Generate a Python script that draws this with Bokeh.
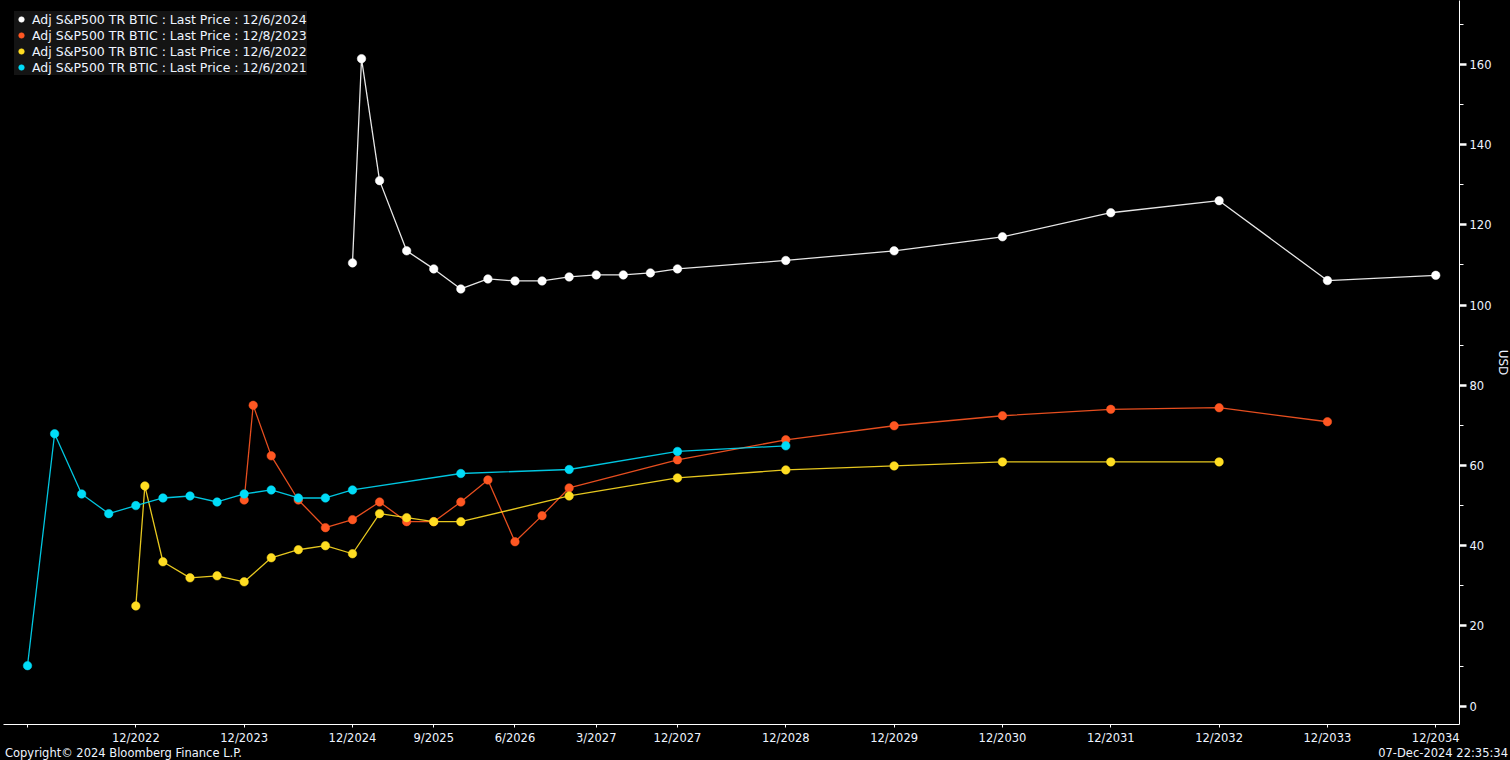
import math
from bokeh.plotting import figure
from bokeh.layouts import column
from bokeh.models import (Range1d, FixedTicker, Legend, LegendItem, Label, ColumnDataSource, Div)
from bokeh.embed import file_html
from bokeh.resources import INLINE

# ---- data (contract month "M/YYYY" -> last price, USD) ----
c2024_months = ["12/2024", "1/2025", "3/2025", "6/2025", "9/2025", "12/2025", "3/2026", "6/2026",
                "9/2026", "12/2026", "3/2027", "6/2027", "9/2027", "12/2027", "12/2028", "12/2029",
                "12/2030", "12/2031", "12/2032", "12/2033", "12/2034"]
c2024_vals = [110.5, 161.4, 131.0, 113.5, 109.0, 104.0, 106.5, 106.0, 106.0, 107.0, 107.5, 107.5,
              108.0, 109.0, 111.1, 113.5, 117.0, 123.0, 126.0, 106.1, 107.4]

c2023_months = ["12/2023", "1/2024", "3/2024", "6/2024", "9/2024", "12/2024", "3/2025", "6/2025",
                "9/2025", "12/2025", "3/2026", "6/2026", "9/2026", "12/2026", "12/2027", "12/2028",
                "12/2029", "12/2030", "12/2031", "12/2032", "12/2033"]
c2023_vals = [51.4, 75.0, 62.4, 51.4, 44.5, 46.5, 50.9, 46.0, 46.0, 50.9, 56.4, 41.0, 47.5, 54.4,
              61.4, 66.4, 69.9, 72.4, 74.0, 74.4, 70.9]

c2022_months = ["12/2022", "1/2023", "3/2023", "6/2023", "9/2023", "12/2023", "3/2024", "6/2024",
                "9/2024", "12/2024", "3/2025", "6/2025", "9/2025", "12/2025", "12/2026", "12/2027",
                "12/2028", "12/2029", "12/2030", "12/2031", "12/2032"]
c2022_vals = [25.0, 54.9, 36.0, 32.0, 32.5, 31.0, 37.0, 39.0, 40.0, 38.0, 48.0, 47.0, 46.0, 46.0,
              52.4, 56.9, 58.9, 59.9, 60.9, 60.9, 60.9]

c2021_months = ["12/2021", "3/2022", "6/2022", "9/2022", "12/2022", "3/2023", "6/2023", "9/2023",
                "12/2023", "3/2024", "6/2024", "9/2024", "12/2024", "12/2025", "12/2026", "12/2027",
                "12/2028"]
c2021_vals = [10.1, 67.9, 52.9, 48.0, 50.0, 51.9, 52.4, 50.9, 52.9, 53.9, 51.9, 51.9, 53.9, 58.0,
              59.0, 63.5, 64.9]

series_labels = ["Adj S&P500 TR BTIC : Last Price : 12/6/2024",
                 "Adj S&P500 TR BTIC : Last Price : 12/8/2023",
                 "Adj S&P500 TR BTIC : Last Price : 12/6/2022",
                 "Adj S&P500 TR BTIC : Last Price : 12/6/2021"]
series_colors = ["#ffffff", "#ff5722", "#ffdd22", "#00dcf8"]

x_ticks = ["12/2021", "12/2022", "12/2023", "12/2024", "9/2025", "6/2026", "3/2027", "12/2027",
           "12/2028", "12/2029", "12/2030", "12/2031", "12/2032", "12/2033", "12/2034"]
x_tick_labels = ["", "12/2022", "12/2023", "12/2024", "9/2025", "6/2026", "3/2027", "12/2027",
                 "12/2028", "12/2029", "12/2030", "12/2031", "12/2032", "12/2033", "12/2034"]
y_ticks = [0, 20, 40, 60, 80, 100, 120, 140, 160]

copyright_text = "Copyright\u00a9 2024 Bloomberg Finance L.P."
stamp_text = "07-Dec-2024 22:35:34"


def mi(s):
    m, y = s.split("/")
    return int(y) * 12 + int(m) - 1


FONT = "DejaVu Sans"
TXT = "#eef4ff"

x0 = mi("12/2021") - 2.66
x1 = mi("12/2034") + 2.63

p = figure(width=1510, height=747, output_backend="svg", toolbar_location=None,
           x_range=Range1d(x0, x1), y_range=Range1d(-4.56, 175.9),
           y_axis_location="right", background_fill_color="black",
           border_fill_color="black", outline_line_color=None,
           min_border_left=3, min_border_right=51, min_border_top=0, min_border_bottom=23)
p.xgrid.visible = False
p.ygrid.visible = False

items = []
for months, vals, lab, col in zip([c2024_months, c2023_months, c2022_months, c2021_months],
                                  [c2024_vals, c2023_vals, c2022_vals, c2021_vals],
                                  series_labels, series_colors):
    src = ColumnDataSource(dict(x=[mi(m) for m in months], y=vals))
    p.line("x", "y", source=src, line_color=col, line_width=1.3, line_alpha=0.9)
    r = p.scatter("x", "y", source=src, size=8.5, fill_color=col, line_color=col, line_width=0.5)
    items.append(LegendItem(label=lab, renderers=[r]))

legend = Legend(items=items, location="top_left", margin=11, padding=7,
                background_fill_color="#141414", background_fill_alpha=1,
                border_line_color=None, label_text_color=TXT, label_text_font=FONT,
                label_text_font_size="12.5px", glyph_width=14, glyph_height=16,
                label_height=16, label_standoff=4, spacing=0)
p.add_layout(legend)

# x axis
xa = p.xaxis[0]
xa.ticker = FixedTicker(ticks=[mi(t) for t in x_ticks], minor_ticks=[])
xa.major_label_overrides = {mi(t): l for t, l in zip(x_ticks, x_tick_labels)}
xa.axis_line_color = "white"
xa.major_tick_line_color = "white"
xa.major_tick_in = 0
xa.major_tick_out = 3
xa.minor_tick_line_color = None
xa.major_label_text_color = TXT
xa.major_label_text_font = FONT
xa.major_label_text_font_size = "11.5px"
xa.major_label_standoff = 3

# y axis (right)
ya = p.yaxis[0]
ya.ticker = FixedTicker(ticks=y_ticks, minor_ticks=[v + 10 for v in y_ticks])
ya.axis_line_color = "white"
ya.major_tick_line_color = "white"
ya.major_tick_line_width = 2.5
ya.major_tick_in = 0
ya.major_tick_out = 7
ya.minor_tick_line_color = "white"
ya.minor_tick_in = 0
ya.minor_tick_out = 4
ya.major_label_text_color = TXT
ya.major_label_text_font = FONT
ya.major_label_text_font_size = "11.5px"
ya.major_label_standoff = 3

p.add_layout(Label(x=1502, y=362, x_units="canvas", y_units="canvas", text="USD",
                   angle=-math.pi / 2, text_color=TXT, text_font=FONT, text_font_size="12px",
                   text_align="center", text_baseline="middle"), "right")

span_css = (f"position:absolute;top:0;line-height:13px;font-family:'DejaVu Sans';"
            f"font-size:11.5px;color:{TXT};white-space:nowrap;")
footer = Div(
    text=(f'<div style="position:relative;width:1510px;height:13px;background:black;">'
          f'<span style="{span_css}left:5px;">{copyright_text}</span>'
          f'<span style="{span_css}right:2px;">{stamp_text}</span></div>'),
    width=1510, height=13, margin=0,
    styles={"background-color": "black"})

layout = column(p, footer, spacing=0, margin=0, styles={"background-color": "black"})

open("out.html", "w").write(file_html(layout, INLINE))
